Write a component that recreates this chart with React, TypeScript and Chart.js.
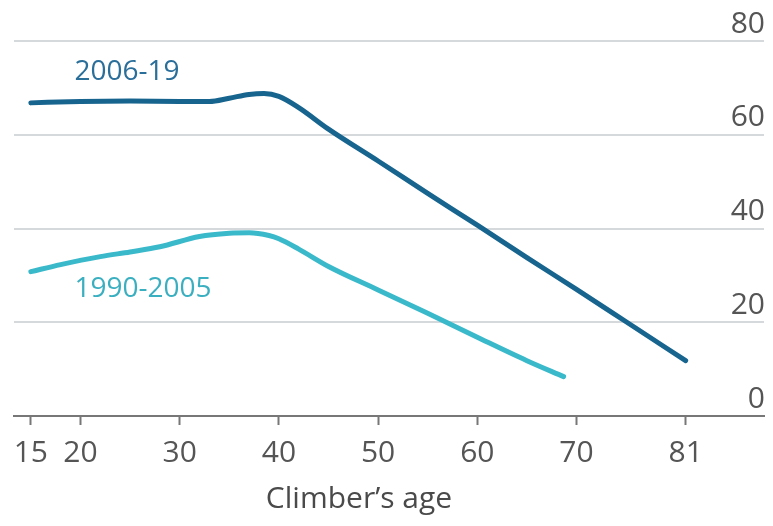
import React, { useEffect, useRef } from "react";
import { Chart, registerables } from "chart.js";

Chart.register(...registerables);

// ---- data ----
const xTickValues = [15, 20, 30, 40, 50, 60, 70, 81];
const yTickValues = [0, 20, 40, 60, 80];

const ages2006 = [15, 20, 25, 30, 33, 35, 37, 38.5, 40, 42, 45, 50, 55, 60, 65, 70, 75, 81];
const share2006 = [66.8, 67.1, 67.2, 67.1, 67.1, 67.8, 68.6, 68.8, 68.2, 65.8, 61.2, 54.4, 47.5, 40.7, 33.8, 27, 20.1, 11.8];

const ages1990 = [15, 18, 22, 25, 28, 32, 35, 37, 39, 40, 42, 45, 50, 55, 60, 65, 68.7];
const share1990 = [30.8, 32.3, 34, 35, 36.1, 38.3, 39, 39.1, 38.5, 37.8, 35.6, 31.9, 26.9, 21.9, 16.8, 11.8, 8.4];

const seriesNames = ["2006-19", "1990-2005"];
const axisTitle = "Climber\u2019s age";

// label anchors (data units)
const labelAnchorX = [19.4, 19.4];
const labelAnchorY = [73.4, 27.1];

const FONT = "'Open Sans', 'Noto Sans', sans-serif";
const DARK = "#17648F";
const LIGHT = "#3AB9CB";
const LABEL_COLORS = ["#2A6E9A", "#3AAFC0"];

export default function App() {
  const ref = useRef<HTMLCanvasElement>(null);

  useEffect(() => {
    document.body.style.margin = "0";
    const canvas = ref.current;
    if (!canvas) return;

    const labelPlugin = {
      id: "seriesLabels",
      afterDatasetsDraw(chart: any) {
        const { ctx, scales, chartArea } = chart;
        const x = scales.x;
        const y = scales.y;
        ctx.save();
        ctx.font = `28px ${FONT}`;
        ctx.textBaseline = "middle";
        ctx.textAlign = "left";
        seriesNames.forEach((name, i) => {
          ctx.fillStyle = LABEL_COLORS[i];
          ctx.fillText(name, x.getPixelForValue(labelAnchorX[i]), y.getPixelForValue(labelAnchorY[i]));
        });
        ctx.font = `30px ${FONT}`;
        ctx.fillStyle = "#4a4a4a";
        ctx.textAlign = "center";
        ctx.textBaseline = "alphabetic";
        ctx.fillText(axisTitle, chartArea.left + 345, chartArea.bottom + 92);
        ctx.restore();
      },
    };

    const chart = new Chart(canvas, {
      type: "line",
      data: {
        datasets: [
          {
            label: seriesNames[0],
            data: ages2006.map((a, i) => ({ x: a, y: share2006[i] })),
            borderColor: DARK,
            borderWidth: 5,
            pointRadius: 0,
            cubicInterpolationMode: "monotone",
            borderCapStyle: "round",
            borderJoinStyle: "round",
          },
          {
            label: seriesNames[1],
            data: ages1990.map((a, i) => ({ x: a, y: share1990[i] })),
            borderColor: LIGHT,
            borderWidth: 5,
            pointRadius: 0,
            cubicInterpolationMode: "monotone",
            borderCapStyle: "round",
            borderJoinStyle: "round",
          },
        ],
      },
      options: {
        animation: false,
        responsive: true,
        maintainAspectRatio: false,
        devicePixelRatio: 1,
        layout: { padding: { top: 41, right: 7, left: 14, bottom: 0 } },
        plugins: {
          legend: { display: false },
          tooltip: { enabled: false },
        },
        scales: {
          x: {
            type: "linear",
            min: 13.3,
            max: 88.9,
            afterBuildTicks: (s: any) => {
              s.ticks = xTickValues.map((v) => ({ value: v }));
            },
            afterFit: (s: any) => {
              s.height = 110;
            },
            grid: {
              drawOnChartArea: false,
              drawTicks: true,
              tickLength: 9,
              tickColor: "#777",
              tickWidth: 2,
            },
            border: { display: true, color: "#777", width: 2 },
            ticks: {
              autoSkip: false,
              maxRotation: 0,
              padding: 10,
              color: "#555",
              font: { family: FONT, size: 30 },
              callback: (v: any) => String(v),
            },
          },
          y: {
            position: "right",
            min: 0,
            max: 80,
            afterBuildTicks: (s: any) => {
              s.ticks = yTickValues.map((v) => ({ value: v }));
            },
            grid: { color: "#d6d9dc", lineWidth: 2, drawTicks: false },
            border: { display: false },
            ticks: {
              mirror: true,
              padding: 1,
              color: "#555",
              font: { family: FONT, size: 30, lineHeight: "34px" },
              callback: (v: any) => [String(v), ""],
            },
          },
        },
      },
      plugins: [labelPlugin],
    } as any);

    return () => chart.destroy();
  }, []);

  return (
    <div style={{ width: 773, height: 526, position: "relative" }}>
      <canvas ref={ref} />
    </div>
  );
}
